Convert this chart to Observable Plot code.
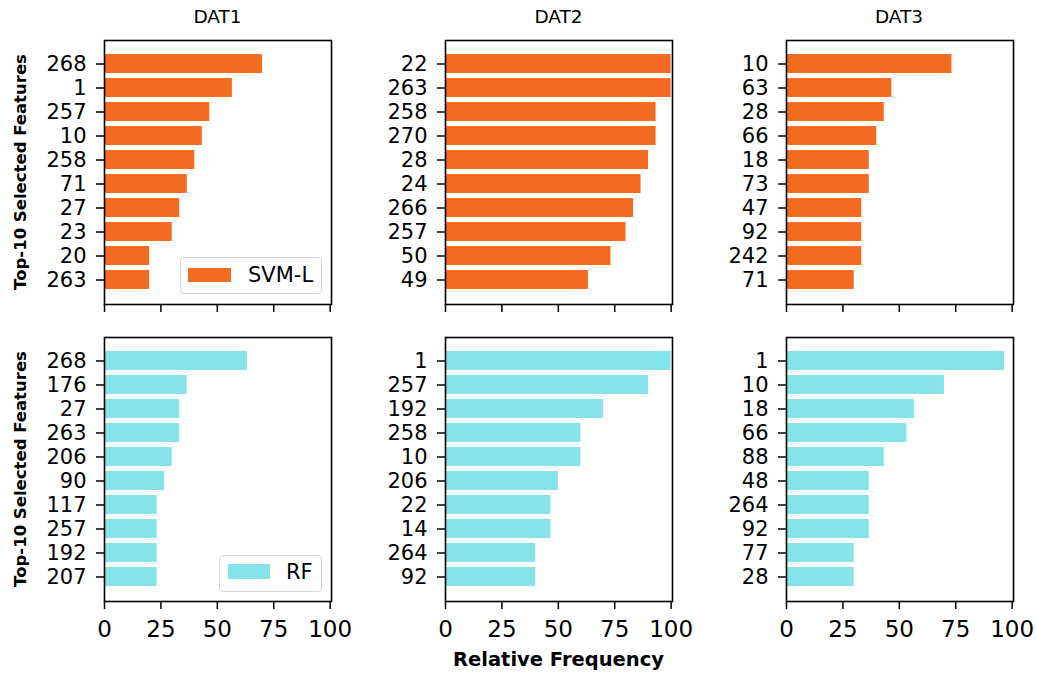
<!DOCTYPE html>
<html>
<head>
<meta charset="utf-8">
<script src="https://cdn.jsdelivr.net/npm/d3@7"></script>
<script src="https://cdn.jsdelivr.net/npm/@observablehq/plot@0.6"></script>
<style>
  html, body { margin: 0; padding: 0; background: #fff; }
  #root { position: relative; width: 1037px; height: 676px; overflow: hidden; font-family: "DejaVu Sans", sans-serif; color: #000; }
  .abs { position: absolute; }
  .title { font-size: 18.5px; transform: translateX(-50%); white-space: nowrap; }
  .ylab { font-size: 16.5px; font-weight: bold; white-space: nowrap; transform: translate(-50%, -50%) rotate(-90deg); }
  .xlab { font-size: 19.5px; font-weight: bold; white-space: nowrap; transform: translateX(-50%); }
  .legend { border: 1.5px solid #d4d4d4; border-radius: 4px; background: rgba(255,255,255,0.85); box-sizing: border-box; }
  .legtext { font-size: 21px; white-space: nowrap; line-height: 1; }
</style>
</head>
<body>
<div id="root"></div>
<script>
const datasets = ["DAT1", "DAT2", "DAT3"];
const methods = ["SVM-L", "RF"];
const methodColors = ["#f26b21", "#85e3e9"];

const svmFeatures = [
  [268, 1, 257, 10, 258, 71, 27, 23, 20, 263],
  [22, 263, 258, 270, 28, 24, 266, 257, 50, 49],
  [10, 63, 28, 66, 18, 73, 47, 92, 242, 71]
];
const svmValues = [
  [70, 56.67, 46.67, 43.33, 40, 36.67, 33.33, 30, 20, 20],
  [100, 100, 93.33, 93.33, 90, 86.67, 83.33, 80, 73.33, 63.33],
  [73.33, 46.67, 43.33, 40, 36.67, 36.67, 33.33, 33.33, 33.33, 30]
];
const rfFeatures = [
  [268, 176, 27, 263, 206, 90, 117, 257, 192, 207],
  [1, 257, 192, 258, 10, 206, 22, 14, 264, 92],
  [1, 10, 18, 66, 88, 48, 264, 92, 77, 28]
];
const rfValues = [
  [63.33, 36.67, 33.33, 33.33, 30, 26.67, 23.33, 23.33, 23.33, 23.33],
  [100, 90, 70, 60, 60, 50, 46.67, 46.67, 40, 40],
  [96.67, 70, 56.67, 53.33, 43.33, 36.67, 36.67, 36.67, 30, 30]
];
const xTicks = [0, 25, 50, 75, 100];

const root = document.getElementById("root");
const colLeft = [104, 445, 785.5];
const rowTop = [40, 337];
const PW = 227, PH = 264;
const tickFont = 21;

function panel(features, values, color, showXLabels, left, top) {
  const data = features.map((f, i) => ({feature: String(f), value: values[i]}));
  const mL = 100, mR = 40, mT = 10, mB = 50;
  const chart = Plot.plot({
    width: mL + PW + mR,
    height: mT + PH + mB,
    marginLeft: mL, marginRight: mR, marginTop: mT, marginBottom: mB,
    style: {fontFamily: "DejaVu Sans", fontSize: tickFont + "px", background: "transparent", overflow: "visible", color: "#000"},
    x: {domain: [0, 100.6]},
    y: {domain: features.map(String), paddingInner: 0.2, paddingOuter: 0.49, align: 0.5},
    marks: [
      Plot.barX(data, {x: "value", y: "feature", fill: color}),
      Plot.frame({stroke: "#000", strokeWidth: 1.6}),
      Plot.axisY({tickSize: 8, tickPadding: 10, fontSize: tickFont, strokeWidth: 1.5, label: null}),
      Plot.axisX({ticks: xTicks, tickSize: 8, tickPadding: 11, fontSize: 23, strokeWidth: 1.5, label: null,
                  tickFormat: showXLabels ? (d => String(d)) : (() => "")})
    ]
  });
  chart.classList.add("abs");
  chart.style.left = (left - mL) + "px";
  chart.style.top = (top - mT) + "px";
  root.appendChild(chart);
}

for (let c = 0; c < 3; c++) {
  panel(svmFeatures[c], svmValues[c], methodColors[0], false, colLeft[c], rowTop[0]);
  panel(rfFeatures[c], rfValues[c], methodColors[1], true, colLeft[c], rowTop[1]);
  const t = document.createElement("div");
  t.className = "abs title";
  t.textContent = datasets[c];
  t.style.left = (colLeft[c] + PW / 2) + "px";
  t.style.top = "6px";
  root.appendChild(t);
}

for (let r = 0; r < 2; r++) {
  const y = document.createElement("div");
  y.className = "abs ylab";
  y.textContent = "Top-10 Selected Features";
  y.style.left = "19.5px";
  y.style.top = (rowTop[r] + PH / 2) + "px";
  root.appendChild(y);
}

const xl = document.createElement("div");
xl.className = "abs xlab";
xl.textContent = "Relative Frequency";
xl.style.left = (colLeft[1] + PW / 2) + "px";
xl.style.top = "648px";
root.appendChild(xl);

function legend(label, color, box, patch, textLeft) {
  const b = document.createElement("div");
  b.className = "abs legend";
  Object.assign(b.style, {left: box[0] + "px", top: box[1] + "px", width: box[2] + "px", height: box[3] + "px"});
  root.appendChild(b);
  const p = document.createElement("div");
  p.className = "abs";
  Object.assign(p.style, {left: patch[0] + "px", top: patch[1] + "px", width: patch[2] + "px", height: patch[3] + "px", background: color});
  root.appendChild(p);
  const t = document.createElement("div");
  t.className = "abs legtext";
  t.textContent = label;
  t.style.left = textLeft + "px";
  t.style.top = (patch[1] + patch[3] / 2) + "px";
  t.style.transform = "translateY(-50%)";
  root.appendChild(t);
}
legend(methods[0], methodColors[0], [180, 257, 142, 37], [188, 268, 43, 14], 248);
legend(methods[1], methodColors[1], [219, 555, 103, 37], [228, 564, 42, 15], 286);
</script>
</body>
</html>
